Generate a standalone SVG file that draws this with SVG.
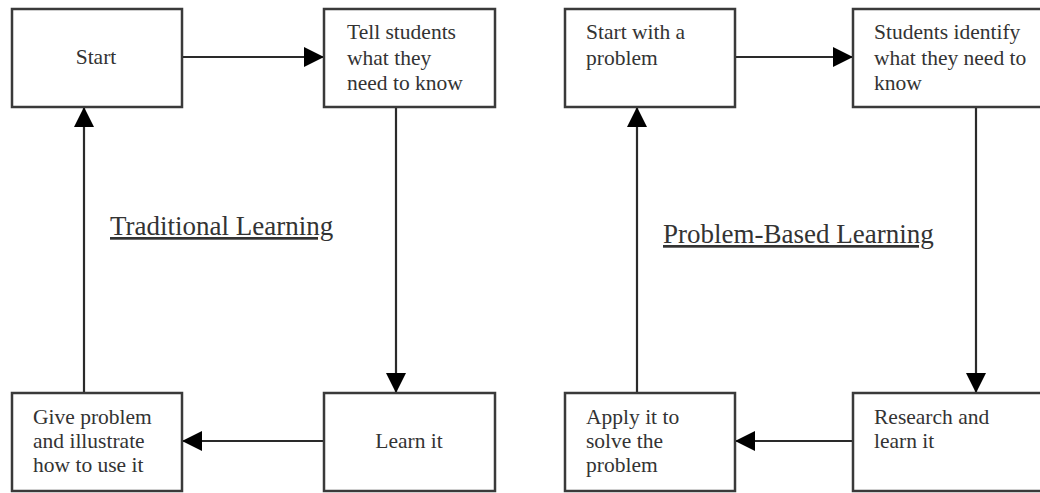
<svg xmlns="http://www.w3.org/2000/svg" width="1040" height="493" viewBox="0 0 1040 493">
<style>
.box{fill:#fff;stroke:#3a3a3a;stroke-width:2.5}
.t{font-family:"Liberation Serif","Times New Roman",serif;font-size:21.5px;fill:#333}
.title{font-family:"Liberation Serif","Times New Roman",serif;font-size:27px;fill:#333;text-decoration:underline}
.c{fill:none;stroke:#2a2a2a;stroke-width:2.2}
</style>
<defs>
<marker id="ah" viewBox="0 0 20 20" refX="20" refY="10" markerWidth="20" markerHeight="20" markerUnits="userSpaceOnUse" orient="auto">
<path d="M0,0 L20,10 L0,20 Z" fill="#000"/>
</marker>
</defs>
<rect width="1040" height="493" fill="#fff"/>
<g id="connectors">
<line class="c" x1="182" y1="57" x2="324" y2="57" marker-end="url(#ah)"/>
<line class="c" x1="396" y1="107" x2="396" y2="393" marker-end="url(#ah)"/>
<line class="c" x1="324" y1="441" x2="182" y2="441" marker-end="url(#ah)"/>
<line class="c" x1="84" y1="393" x2="84" y2="107" marker-end="url(#ah)"/>
<line class="c" x1="735" y1="57" x2="853" y2="57" marker-end="url(#ah)"/>
<line class="c" x1="976" y1="107" x2="976" y2="393" marker-end="url(#ah)"/>
<line class="c" x1="853" y1="441" x2="735" y2="441" marker-end="url(#ah)"/>
<line class="c" x1="637" y1="393" x2="637" y2="107" marker-end="url(#ah)"/>
</g>
<g id="start">
<rect class="box" x="12" y="9" width="170" height="98"/>
<text class="t" x="96" y="64" text-anchor="middle">Start</text>
</g>
<g id="tell">
<rect class="box" x="324" y="9" width="171" height="98"/>
<text class="t" x="347" y="39">Tell students</text>
<text class="t" x="347" y="65">what they</text>
<text class="t" x="347" y="90">need to know</text>
</g>
<g id="learn">
<rect class="box" x="324" y="393" width="171" height="98"/>
<text class="t" x="409" y="448" text-anchor="middle">Learn it</text>
</g>
<g id="give">
<rect class="box" x="12" y="393" width="170" height="98"/>
<text class="t" x="33" y="424">Give problem</text>
<text class="t" x="33" y="448">and illustrate</text>
<text class="t" x="33" y="472">how to use it</text>
</g>
<g id="pstart">
<rect class="box" x="565" y="9" width="170" height="98"/>
<text class="t" x="586" y="39">Start with a</text>
<text class="t" x="586" y="65">problem</text>
</g>
<g id="identify">
<rect class="box" x="853" y="9" width="200" height="98"/>
<text class="t" x="874" y="39">Students identify</text>
<text class="t" x="874" y="65">what they need to</text>
<text class="t" x="874" y="90">know</text>
</g>
<g id="research">
<rect class="box" x="853" y="393" width="200" height="98"/>
<text class="t" x="874" y="424">Research and</text>
<text class="t" x="874" y="448">learn it</text>
</g>
<g id="apply">
<rect class="box" x="565" y="393" width="170" height="98"/>
<text class="t" x="586" y="424">Apply it to</text>
<text class="t" x="586" y="448">solve the</text>
<text class="t" x="586" y="472">problem</text>
</g>
<g id="labels">
<text class="title" x="110" y="235">Traditional Learning</text>
<text class="title" x="663" y="243">Problem-Based Learning</text>
</g>
</svg>
